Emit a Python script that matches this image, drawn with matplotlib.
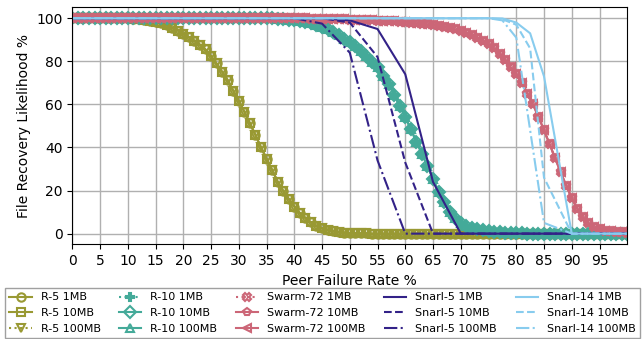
import matplotlib
matplotlib.use("Agg")
import matplotlib.pyplot as plt

# failure rates (%) where the simulated curves were sampled
rates = list(range(0, 101))

r5 = [100] * 11 + [99.8, 99.6, 99.3, 98.9, 98.3, 97.6, 96.7, 95.6, 94.3, 92.8,
                   91.3, 89.6, 87.7, 85.5, 82.4, 79.0, 75.1, 71.3, 66.3, 61.7,
                   56.6, 51.3, 45.8, 40.1, 34.8, 29.6, 24.2, 19.9, 16.2, 12.6,
                   9.6, 7.3, 5.2, 3.7, 2.6, 1.8, 1.2, 0.8, 0.5, 0.3,
                   0.2, 0.1, 0.1] + [0] * 47

r10 = [100] * 36 + [99.9, 99.8, 99.6, 99.4, 99.1, 98.7, 98.2, 97.6, 96.9, 96.0,
                    95.0, 93.6, 92.1, 90.5, 88.8, 86.9, 84.7, 82.3, 79.8, 77.2,
                    73.4, 69.3, 64.5, 59.3, 54.1, 48.4, 42.7, 37.0, 31.3, 25.5,
                    19.5, 14.5, 10.2, 7.2, 5.0, 3.6, 2.7, 2.0, 1.5, 1.1,
                    0.8, 0.6, 0.4, 0.3, 0.2, 0.1] + [0] * 19

swarm = [100] * 41 + [99.9, 99.9, 99.8, 99.8, 99.7, 99.7, 99.6, 99.5, 99.5, 99.4,
                      99.3, 99.2, 99.1, 99.0, 98.9, 98.8, 98.6, 98.5, 98.3, 98.1,
                      97.9, 97.6, 97.4, 97.1, 96.8, 96.4, 95.9, 95.4, 94.8, 94.2,
                      93.2, 92.2, 90.9, 89.5, 88.0, 86.0, 83.6, 80.5, 77.2, 74.0,
                      69.8, 65.0, 60.0, 54.3, 48.0, 41.6, 35.0, 28.5, 22.3, 16.5,
                      11.5, 7.6, 4.8, 3.0, 2.0, 1.4, 1.0, 0.8, 0.6, 0.5]

# Snarl results (coarser sampling)
snarl5_x = list(range(0, 101, 5))
snarl5_1mb = [100] * 10 + [99, 95, 74, 24, 0] + [0] * 6
snarl5_10mb = [100] * 10 + [98, 82, 33, 0] + [0] * 7
snarl5_100mb = [100] * 9 + [97.5, 84, 34, 0] + [0] * 8

snarl14_x = list(range(0, 76, 5)) + [77.5, 80, 82.5, 85, 90, 95, 100]
snarl14_1mb = [100] * 16 + [99.9, 98, 93, 73, 0, 0, 0]
snarl14_10mb = [100] * 16 + [99.5, 97, 86, 26, 0, 0, 0]
snarl14_100mb = [100] * 16 + [99, 91, 48, 5, 0, 0, 0]

OLIVE = "#999933"
TEAL = "#44AA99"
ROSE = "#CC6677"
INDIGO = "#332288"
CYAN = "#88CCEE"

plt.rcParams["font.size"] = 10
fig, ax = plt.subplots(figsize=(6.44, 3.39), dpi=100)
fig.subplots_adjust(left=0.1123, right=0.974, top=0.978, bottom=0.279)

mk = dict(ms=6, mew=1.5, mfc="none", lw=1.5)

ax.plot(rates, r5, color=OLIVE, marker="o", ls="-", label="R-5 1MB", **mk)
ax.plot(rates, r5, color=OLIVE, marker="s", ls="-", label="R-5 10MB", **mk)
ax.plot(rates, r5, color=OLIVE, marker="v", ls=":", label="R-5 100MB", **mk)
ax.plot(rates, r10, color=TEAL, marker="P", ls=":", label="R-10 1MB", **mk)
ax.plot(rates, r10, color=TEAL, marker="D", ls="-", label="R-10 10MB", **mk)
ax.plot(rates, r10, color=TEAL, marker="^", ls="-", label="R-10 100MB", **mk)
ax.plot(rates, swarm, color=ROSE, marker="X", ls=":", label="Swarm-72 1MB", **mk)
ax.plot(rates, swarm, color=ROSE, marker="p", ls="-", label="Swarm-72 10MB", **mk)
ax.plot(rates, swarm, color=ROSE, marker="<", ls="-", label="Swarm-72 100MB", **mk)

ax.plot(snarl5_x, snarl5_1mb, color=INDIGO, ls="-", lw=1.5, label="Snarl-5 1MB")
ax.plot(snarl5_x, snarl5_10mb, color=INDIGO, ls="--", lw=1.5, label="Snarl-5 10MB")
ax.plot(snarl5_x, snarl5_100mb, color=INDIGO, ls="-.", lw=1.5, label="Snarl-5 100MB")
ax.plot(snarl14_x, snarl14_1mb, color=CYAN, ls="-", lw=1.5, label="Snarl-14 1MB")
ax.plot(snarl14_x, snarl14_10mb, color=CYAN, ls="--", lw=1.5, label="Snarl-14 10MB")
ax.plot(snarl14_x, snarl14_100mb, color=CYAN, ls="-.", lw=1.5, label="Snarl-14 100MB")

ax.set_xlim(0, 100)
ax.set_ylim(-5, 105)
ax.set_xticks(range(0, 100, 5))
ax.set_yticks(range(0, 101, 20))
ax.grid(True, color="#b0b0b0", lw=1)
ax.set_axisbelow(True)
ax.set_xlabel("Peer Failure Rate %")
ax.set_ylabel("File Recovery Likelihood %")

fig.legend(loc="lower left", bbox_to_anchor=(5 / 644, 1 / 339, 635 / 644, 50 / 339),
           mode="expand", ncol=5, fontsize=8, frameon=True, borderaxespad=0,
           handlelength=2, labelspacing=0.5, fancybox=False, edgecolor="#888888")

fig.savefig("out.png", dpi=100)
